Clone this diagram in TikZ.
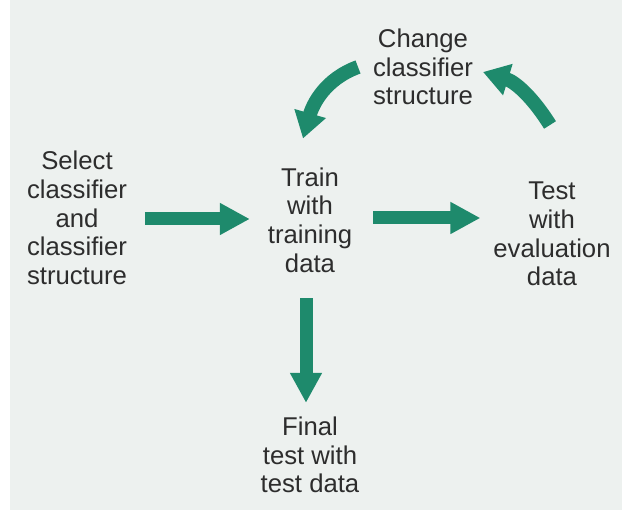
\documentclass[tikz,border=0pt]{standalone}
\usepackage{fontspec}
\setmainfont{Liberation Sans}
\usetikzlibrary{arrows.meta}
\definecolor{bgc}{RGB}{237,241,239}
\definecolor{arrowgreen}{RGB}{30,138,108}
\definecolor{txt}{RGB}{45,45,45}
\begin{document}
\begin{tikzpicture}[x=1pt,y=1pt,
  lbl/.style={align=center, inner sep=0pt, outer sep=0pt, text=txt,
    font=\fontsize{25.7}{28.7}\selectfont},
  bigarrow/.style={draw=arrowgreen, line width=13pt,
    -{Triangle[length=30pt,width=30pt]}},
  curvarrow/.style={draw=arrowgreen, line width=14pt,
    -{Triangle[length=26pt,width=31pt]}}]
\fill[white] (0,0) rectangle (622,-510);
\fill[bgc] (10,0) rectangle (622,-510);
\useasboundingbox (0,0) rectangle (622,-510);

\node[lbl] (sel) at (77,-218) {Select\\classifier\\and\\classifier\\structure};
\node[lbl] (train) at (310,-220) {Train\\with\\training\\data};
\node[lbl] (test) at (552,-234) {Test\\with\\evaluation\\data};
\node[lbl] (change) at (423,-67) {Change\\classifier\\structure};
\node[lbl] (final) at (310,-455) {Final\\test with\\test data};

\coordinate (rowA) at (0,-219);
\coordinate (rowB) at (0,-218);

\draw[bigarrow, shorten <=18pt, shorten >=18pt] (sel.east |- rowA) -- (train.west |- rowA);
\draw[bigarrow, shorten <=21pt, shorten >=13pt] (train.east |- rowB) -- (test.west |- rowB);
\draw[bigarrow, shorten <=26pt, shorten >=14pt] ([xshift=-4pt]train.south) -- ([xshift=-4pt]final.north);

\draw[curvarrow] ([xshift=-15pt]change.west) to[out=200,in=74] ([shift={(-7pt,29pt)}]train.north);
\draw[curvarrow] ([shift={(-2pt,57pt)}]test.north) to[out=122,in=-17] ([shift={(10pt,-5pt)}]change.east);
\end{tikzpicture}
\end{document}
